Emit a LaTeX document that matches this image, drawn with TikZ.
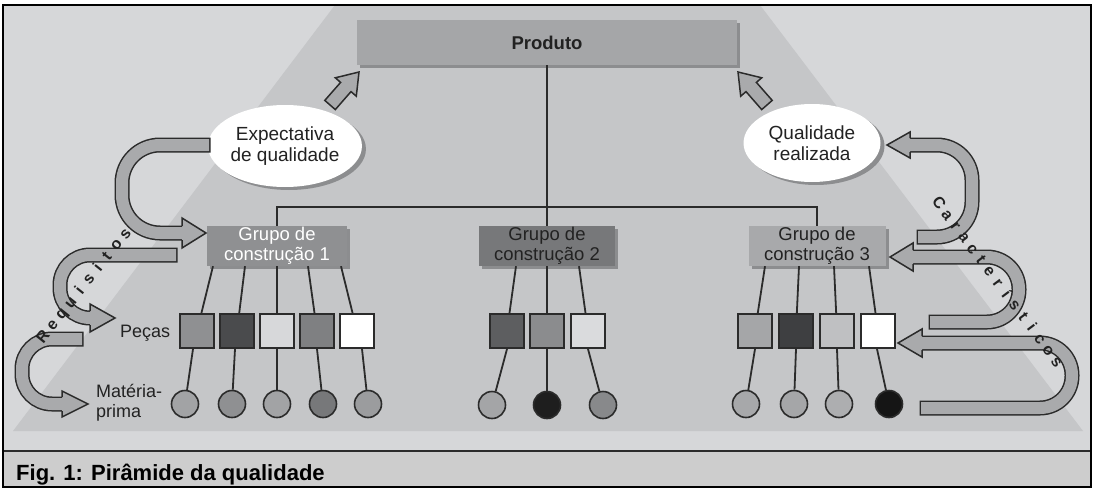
\documentclass[tikz,border=0pt]{standalone}
\usepackage{fontspec}
\setmainfont{Liberation Sans}
\usetikzlibrary{shapes.geometric,shadows}

\newcommand\setfs[2]{\fontsize{#1}{#2}\selectfont}

% palette
\definecolor{bgpage}{HTML}{D6D7D9}
\definecolor{pyr}{HTML}{C5C6C8}
\definecolor{capband}{HTML}{CDCDCD}
\definecolor{ink}{HTML}{2B2B2B}
\definecolor{textdark}{HTML}{222222}
\definecolor{arrowfill}{HTML}{A9AAAC}
\definecolor{shadowc}{HTML}{8C8D8F}
\definecolor{prodfill}{HTML}{A5A6A8}
\definecolor{gonefill}{HTML}{8F9092}
\definecolor{gtwofill}{HTML}{77787A}
\definecolor{gthreefill}{HTML}{A8A9AB}
% parts
\definecolor{pa}{HTML}{8F9092}
\definecolor{pb}{HTML}{4A4B4D}
\definecolor{pc}{HTML}{D7D8DA}
\definecolor{pd}{HTML}{7F8082}
\definecolor{pe}{HTML}{5D5E60}
\definecolor{pf}{HTML}{8B8C8E}
\definecolor{pg}{HTML}{DADBDD}
\definecolor{ph}{HTML}{A5A6A8}
\definecolor{pi}{HTML}{3E3F41}
\definecolor{pj}{HTML}{BFC0C2}
% raw materials
\definecolor{ma}{HTML}{A2A3A5}
\definecolor{mb}{HTML}{8F9092}
\definecolor{mc}{HTML}{77787A}
\definecolor{md}{HTML}{9B9C9E}
\definecolor{me}{HTML}{A4A5A7}
\definecolor{mf}{HTML}{1E1E1E}
\definecolor{mg}{HTML}{88898B}
\definecolor{mh}{HTML}{A7A8AA}
\definecolor{mi}{HTML}{ADAEB0}
\definecolor{mj}{HTML}{151515}

\begin{document}
\begin{tikzpicture}[x=1pt,y=-1pt,
  boxshadow/.style={drop shadow={shadow xshift=3pt,shadow yshift=-3pt,fill=shadowc,opacity=1}},
  grp/.style={rectangle,minimum width=140pt,minimum height=40pt,inner sep=0pt,
    align=center,font=\setfs{18.5}{20},boxshadow},
  part/.style={rectangle,draw=ink,line width=2pt,minimum size=34pt,inner sep=0pt},
  mat/.style={circle,draw=ink,line width=1.6pt,minimum size=27pt,inner sep=0pt},
  bubble/.style={ellipse,fill=white,inner sep=0pt,align=center,text=textdark,
    font=\setfs{19}{21},
    drop shadow={shadow xshift=4pt,shadow yshift=-3pt,fill=shadowc,opacity=1}},
  tree/.style={draw=ink,line width=2.4pt},
  twig/.style={draw=ink,line width=1.8pt},
  label/.style={text=textdark,font=\setfs{18}{20},inner sep=0pt},
  letter/.style={text=textdark,font=\bfseries\setfs{16}{16},inner sep=0pt,anchor=mid},
  shaftdark/.style={draw=ink,line width=15pt,line cap=rect},
  shaftfill/.style={draw=arrowfill,line width=12pt,line cap=rect},
  tipst/.style={fill=arrowfill,draw=ink,line width=1.5pt,line join=miter},
]
\useasboundingbox (0,0) rectangle (1095,490);

% page, pyramid and caption band
\fill[white] (0,0) rectangle (1095,490);
\fill[bgpage] (3,5) rectangle (1091,451);
\fill[capband] (3,451) rectangle (1091,487);
\fill[pyr] (335,5) -- (760,5) -- (1083,431) -- (13,431) -- cycle;
\draw[ink,line width=2pt] (3,451) -- (1091,451);
\draw[black,line width=2.2pt] (3,5) rectangle (1091,487);
\node[anchor=base west,inner sep=0pt,font=\bfseries\setfs{22}{24},text=black] (cap) at (16,480)
  {Fig. 1: Pirâmide da qualidade};

% product and construction groups
\node[rectangle,fill=prodfill,minimum width=380pt,minimum height=45pt,inner sep=0pt,
  font=\bfseries\setfs{18.5}{20},text=textdark,boxshadow] (prod) at (547,42.5) {Produto};
\node[grp,fill=gonefill,text=white] (g1) at (277,246) {Grupo de\\construção 1};
\node[grp,fill=gtwofill,text=textdark,minimum width=136pt] (g2) at (547,246) {Grupo de\\construção 2};
\node[grp,fill=gthreefill,text=textdark,minimum width=137pt] (g3) at (817,246) {Grupo de\\construção 3};
\coordinate (bar) at (547,207);
\draw[tree] (prod.south) -- (g2.north);
\draw[tree] (g1.north) |- (bar) -| (g3.north);

% parts
\node[part,fill=pa] (s11) at (197,331) {};
\node[part,fill=pb] (s12) at (237,331) {};
\node[part,fill=pc] (s13) at (277,331) {};
\node[part,fill=pd] (s14) at (317,331) {};
\node[part,fill=white] (s15) at (357,331) {};
\node[part,fill=pe] (s21) at (507,331) {};
\node[part,fill=pf] (s22) at (547,331) {};
\node[part,fill=pg] (s23) at (588,331) {};
\node[part,fill=ph] (s31) at (755,331) {};
\node[part,fill=pi] (s32) at (796,331) {};
\node[part,fill=pj] (s33) at (837,331) {};
\node[part,fill=white] (s34) at (878,331) {};

% raw materials
\node[mat,fill=ma] (c11) at (185,404) {};
\node[mat,fill=mb] (c12) at (232,404) {};
\node[mat,fill=ma] (c13) at (277,404) {};
\node[mat,fill=mc] (c14) at (323,404) {};
\node[mat,fill=md] (c15) at (368,404) {};
\node[mat,fill=me] (c21) at (492,405) {};
\node[mat,fill=mf] (c22) at (547,405) {};
\node[mat,fill=mg] (c23) at (603,405) {};
\node[mat,fill=mh] (c31) at (746,404) {};
\node[mat,fill=ph] (c32) at (794,404) {};
\node[mat,fill=mi] (c33) at (839,404) {};
\node[mat,fill=mj] (c34) at (889,404) {};

% groups to parts
\draw[twig] ([xshift=-64pt]g1.south) -- (s11);
\draw[twig] ([xshift=-32pt]g1.south) -- (s12);
\draw[twig] (g1.south) -- (s13);
\draw[twig] ([xshift=31pt]g1.south) -- (s14);
\draw[twig] ([xshift=64pt]g1.south) -- (s15);
\draw[twig] ([xshift=-31pt]g2.south) -- (s21);
\draw[twig] (g2.south) -- (s22);
\draw[twig] ([xshift=32pt]g2.south) -- (s23);
\draw[twig] ([xshift=-52pt]g3.south) -- (s31);
\draw[twig] ([xshift=-18pt]g3.south) -- (s32);
\draw[twig] ([xshift=17pt]g3.south) -- (s33);
\draw[twig] ([xshift=52pt]g3.south) -- (s34);

% parts to raw materials
\draw[twig] ([xshift=-4pt]s11.south) -- (c11);
\draw[twig] ([xshift=-2pt]s12.south) -- (c12);
\draw[twig] (s13.south) -- (c13);
\draw[twig] (s14.south) -- (c14);
\draw[twig] ([xshift=5pt]s15.south) -- (c15);
\draw[twig] (s21.south) -- (c21);
\draw[twig] (s22.south) -- (c22);
\draw[twig] (s23.south) -- (c23);
\draw[twig] (s31.south) -- (c31);
\draw[twig] (s32.south) -- (c32);
\draw[twig] (s33.south) -- (c33);
\draw[twig] ([xshift=-1pt]s34.south) -- (c34);

% row labels
\node[label,anchor=base west] (pecas) at (120,337) {Peças};
\node[label,anchor=west,align=left] (materia) at (96,403) {Matéria-\\prima};

% quality bubbles
\node[bubble,minimum width=134pt,minimum height=82pt] (expect) at (285,146) {Expectativa\\de qualidade};
\node[bubble,minimum width=137pt,minimum height=78pt] (real) at (812,143) {Qualidade\\realizada};

% small block arrows towards the product
\filldraw[tipst] (359,72) -- (356.3,96.2) -- (351,91.6) -- (335.3,109.6) -- (324.8,100.4)
  -- (340.6,82.4) -- (335.3,77.8) -- cycle;
\filldraw[tipst] (738,72) -- (740.7,96.2) -- (746,91.6) -- (761.7,109.6) -- (772.2,100.4)
  -- (756.4,82.4) -- (761.7,77.8) -- cycle;

% bent arrows on the left (requirements)
\draw[shaftdark,rounded corners=38pt] (203,145) -- (122,145) -- (122,233) -- (182,233);
\draw[shaftfill,rounded corners=38pt] (203,145) -- (122,145) -- (122,233) -- (182,233);
\filldraw[tipst] (182,226) -- (182,218) -- (206,233) -- (182,248) -- (182,240);

\draw[shaftdark,rounded corners=30pt] (170,255) -- (60,255) -- (60,318) -- (90,318);
\draw[shaftfill,rounded corners=30pt] (170,255) -- (60,255) -- (60,318) -- (90,318);
\filldraw[tipst] (90,311) -- (90,304) -- (115,318) -- (90,332) -- (90,325);

\draw[shaftdark,rounded corners=30pt] (76,339) -- (22,339) -- (22,404) -- (62,404);
\draw[shaftfill,rounded corners=30pt] (76,339) -- (22,339) -- (22,404) -- (62,404);
\filldraw[tipst] (62,397) -- (62,391) -- (88,404) -- (62,417) -- (62,411);

% bent arrows on the right (characteristics)
\draw[shaftdark,rounded corners=35pt] (924,237) -- (972,237) -- (972,145) -- (910,145);
\draw[shaftfill,rounded corners=35pt] (924,237) -- (972,237) -- (972,145) -- (910,145);
\filldraw[tipst] (910,138) -- (910,132) -- (887,145) -- (910,158) -- (910,152);

\draw[shaftdark,rounded corners=32pt] (936,322) -- (1019,322) -- (1019,257) -- (913,257);
\draw[shaftfill,rounded corners=32pt] (936,322) -- (1019,322) -- (1019,257) -- (913,257);
\filldraw[tipst] (913,250) -- (913,243) -- (890,257) -- (913,271) -- (913,264);

\draw[shaftdark,rounded corners=32pt] (927,408) -- (1072,408) -- (1072,343) -- (922,343);
\draw[shaftfill,rounded corners=32pt] (927,408) -- (1072,408) -- (1072,343) -- (922,343);
\filldraw[tipst] (922,336) -- (922,329) -- (898,343) -- (922,357) -- (922,350);

% spaced words along the pyramid flanks
\coordinate (rqA) at (45,338);
\coordinate (rqB) at (127,235);
\foreach \ch [count=\i from 0] in {R,e,q,u,i,s,i,t,o,s} {
  \pgfmathsetmacro\pp{\i/9}
  \path (rqA) -- (rqB) node[letter,sloped,pos=\pp] (rq\i) {\ch};
}
\coordinate (chA) at (937,205);
\coordinate (chB) at (1055,363);
\foreach \ch [count=\i from 0] in {C,a,r,a,c,t,e,r,í,s,t,i,c,o,s} {
  \pgfmathsetmacro\pp{\i/14}
  \path (chA) -- (chB) node[letter,sloped,pos=\pp] (ch\i) {\ch};
}
\end{tikzpicture}
\end{document}
